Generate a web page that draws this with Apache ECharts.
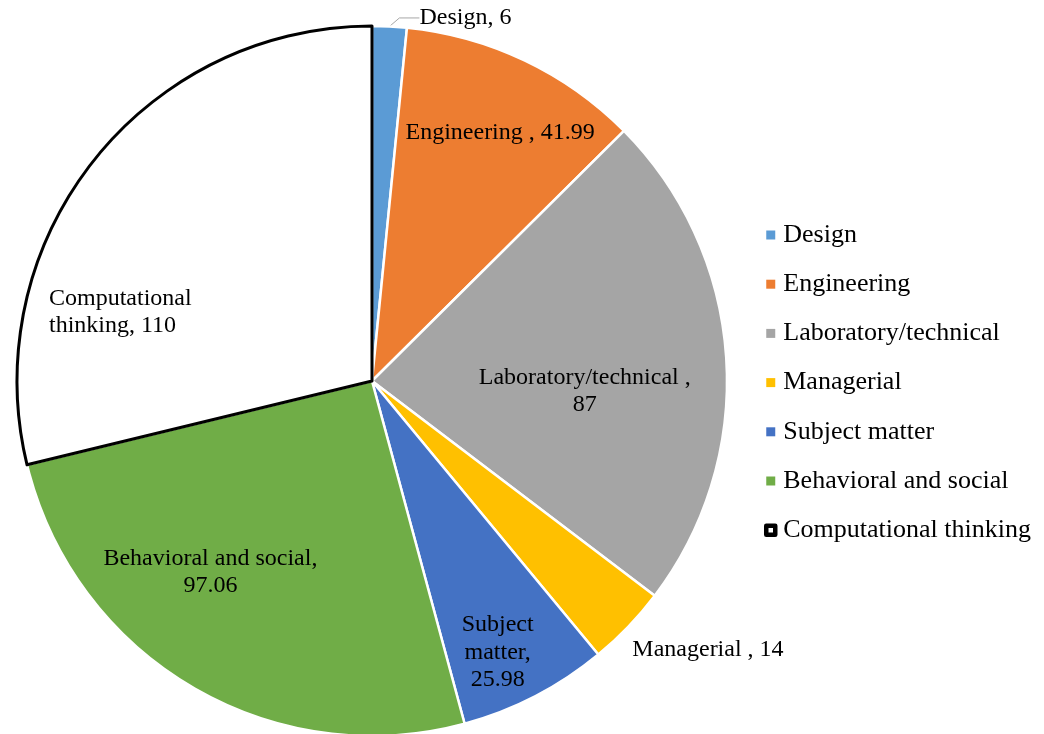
<!DOCTYPE html>
<html><head><meta charset="utf-8">
<script src="https://cdn.jsdelivr.net/npm/echarts@6/dist/echarts.min.js"></script>
<style>html,body{margin:0;padding:0;background:#fff}#c{width:1044px;height:734px}</style>
</head><body><div id="c"></div>
<script>
const categories = ['Design','Engineering','Laboratory/technical','Managerial','Subject matter','Behavioral and social','Computational thinking'];
const values = [6, 41.99, 87, 14, 25.98, 97.06, 110];
const labelTexts = ['Design, 6','Engineering , 41.99','Laboratory/technical ,\n87','Managerial , 14','Subject\nmatter,\n25.98','Behavioral and social,\n97.06','Computational\nthinking, 110'];
const colors = ['#5B9BD5','#ED7D31','#A5A5A5','#FFC000','#4472C4','#70AD47','#FFFFFF'];
// label placement style: [radial fraction, angle offset in degrees, alignment]
const labelPlace = [[1.056, 11.6,'center'],[0.786,1.9,'center'],[0.60,6.5,'center'],[1.211,-5.2,'center'],[0.842,2.5,'center'],[0.705,9.6,'center'],[0.735,-22.9,'left']];

const FONT = '"Liberation Serif","Times New Roman",serif';
const chart = echarts.init(document.getElementById('c'), null, {renderer:'canvas'});

function itemLayout(i){
  try {
    const l = chart.getModel().getSeriesByIndex(0).getData().getItemLayout(i);
    if (l && l.r) return l;
  } catch(e) {}
  const total = values.reduce((a,b)=>a+b,0);
  let s = -Math.PI/2;
  for (let k=0;k<i;k++) s += values[k]/total*Math.PI*2;
  return {cx:372, cy:381, r:355, startAngle:s, endAngle:s+values[i]/total*Math.PI*2};
}

const data = categories.map((name,i)=>{
  const last = i === categories.length-1;
  const outside = (i===0 || i===3);
  return {
    name, value: values[i],
    itemStyle: last ? {color:'#FFFFFF', borderColor:'#000000', borderWidth:3} : {color:colors[i], borderColor:'#FFFFFF', borderWidth:2.5},
    label: {show:true, position: outside ? 'outside' : 'inside', formatter: labelTexts[i]},
    labelLine: {show: i===0, length: 8, length2: 20, lineStyle:{color:'#A6A6A6', width:1}}
  };
});

chart.setOption({
  backgroundColor:'#fff',
  animation:false,
  legend:{
    orient:'vertical', left:759, top:217,
    itemWidth:9, itemHeight:9, itemGap:23.2,
    icon:'rect',
    itemStyle:{borderWidth:0},
    textStyle:{fontFamily:FONT, fontSize:26, color:'#000', lineHeight:26, padding:[0,0,0,3]},
    data: categories.map((n,i)=> i===categories.length-1 ? {name:n, itemStyle:{color:'#fff', borderColor:'#000', borderWidth:4.5}} : {name:n})
  },
  series:[{
    type:'pie',
    center:[372,381],
    radius:[0,355],
    startAngle:90,
    clockwise:true,
    avoidLabelOverlap:false,
    data,
    label:{fontFamily:FONT, fontSize:24, color:'#000', lineHeight:27.5},
    labelLayout: function(p){
      const i = p.dataIndex;
      const l = itemLayout(i);
      const pl = labelPlace[i];
      const a = (l.startAngle + l.endAngle)/2 + pl[1]*Math.PI/180;
      const R = pl[0]*l.r;
      let x = l.cx + R*Math.cos(a);
      const y = l.cy + R*Math.sin(a);
      if (pl[2]==='left') { x = x - p.labelRect.width/2; return {x, y, align:'left', verticalAlign:'middle'}; }
      return {x, y, align:'center', verticalAlign:'middle'};
    }
  }]
});
</script>
</body></html>
